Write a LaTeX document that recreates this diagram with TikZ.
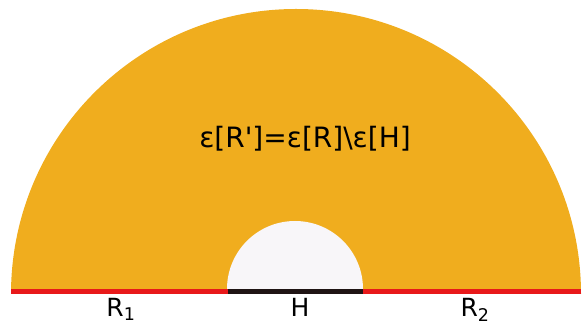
\documentclass[tikz,border=0pt]{standalone}
\usepackage{fontspec}
\setmainfont{DejaVu Sans}
\definecolor{amber}{HTML}{F0AD1E}
\definecolor{holewhite}{HTML}{F8F6F9}
\definecolor{edgered}{HTML}{E8191A}
\definecolor{edgedark}{HTML}{1F1414}
\tikzset{
  lbl/.style={anchor=base, font=\fontsize{25}{30}\selectfont},
  eqlbl/.style={anchor=base, font=\fontsize{28}{33}\selectfont},
  edge/.style={line width=4.6}
}
\begin{document}
\begin{tikzpicture}[x=1pt,y=1pt]
\useasboundingbox (0,0) rectangle (583,329);
% big region and the hole
\fill[amber] (11,35) arc[start angle=180,end angle=0,radius=285] -- cycle;
\fill[holewhite] (227,40) arc[start angle=180,end angle=0,radius=68] -- cycle;
% boundary pieces
\coordinate (a) at (11,37.5);
\coordinate (b) at (227.5,37.5);
\coordinate (c) at (362.5,37.5);
\coordinate (d) at (581,37.5);
\draw[edge, edgered] (a)--(b);
\draw[edge, edgered] (c)--(d);
\draw[edge, edgedark] (b)--(c);
\node[eqlbl] (eq) at (305,181.7) {ε[R\textquotesingle]=ε[R]\textbackslash ε[H]};
\node[lbl] (r1) at (121,12.3) {R\textsubscript{1}};
\node[lbl] (h) at (300,12.3) {H};
\node[lbl] (r2) at (475,12.3) {R\textsubscript{2}};
\end{tikzpicture}
\end{document}
